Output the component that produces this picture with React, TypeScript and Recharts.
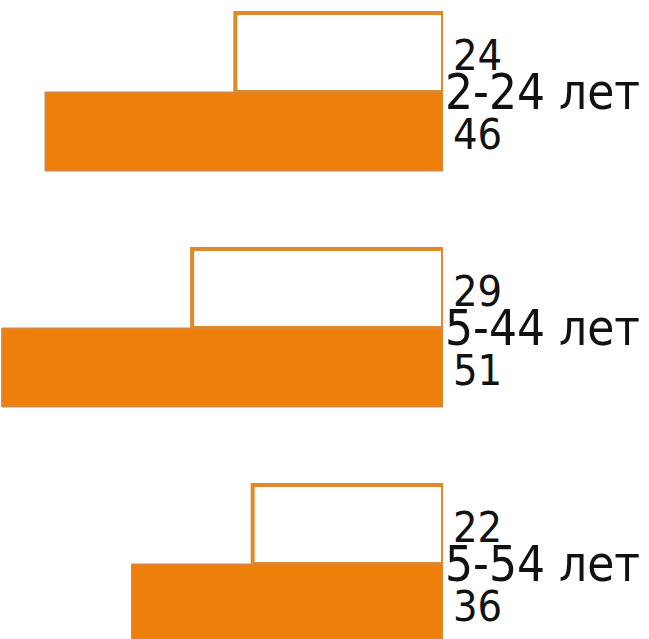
import { BarChart, Bar, XAxis, YAxis, LabelList } from "recharts";

const ageGroups = ["2-24 лет", "5-44 лет", "5-54 лет"];
const outlineValues = [24, 29, 22];
const filledValues = [46, 51, 36];

const data = ageGroups.map((group, i) => ({
  group,
  outline: outlineValues[i],
  filled: filledValues[i],
}));

const FONT = "'DejaVu Sans Condensed', 'DejaVu Sans', sans-serif";

function ValueLabel(props: any) {
  const { x, y, width, height, value } = props;
  const right = Math.max(x, x + width);
  return (
    <text
      x={right + 10}
      y={y + height / 2 + 2}
      dy="0.36em"
      fontFamily={FONT}
      fontSize={43}
      fill="#111"
    >
      {value}
    </text>
  );
}

export default function App() {
  return (
    <div
      style={{
        position: "absolute",
        top: 0,
        left: 0,
        width: 649,
        height: 639,
        overflow: "hidden",
        background: "#fff",
      }}
    >
      <div style={{ marginTop: -26 }}>
        <BarChart
          width={649}
          height={708}
          data={data}
          layout="vertical"
          margin={{ top: 0, right: 0, bottom: 0, left: 0 }}
          barCategoryGap={39}
          barGap={0}
        >
          <XAxis type="number" hide reversed domain={[0, 51.2]} allowDataOverflow />
          <YAxis
            type="category"
            dataKey="group"
            orientation="right"
            width={206}
            axisLine={false}
            tickLine={false}
            tickSize={0}
            tickMargin={2}
            tick={{ fill: "#111", fontSize: 49, fontFamily: FONT }}
          />
          <Bar
            dataKey="outline"
            fill="#ffffff"
            stroke="#e0882a"
            strokeWidth={4}
            isAnimationActive={false}
          >
            <LabelList dataKey="outline" content={<ValueLabel />} />
          </Bar>
          <Bar
            dataKey="filled"
            fill="#ee7f0a"
            stroke="#b89070"
            strokeWidth={1}
            isAnimationActive={false}
          >
            <LabelList dataKey="filled" content={<ValueLabel />} />
          </Bar>
        </BarChart>
      </div>
    </div>
  );
}
